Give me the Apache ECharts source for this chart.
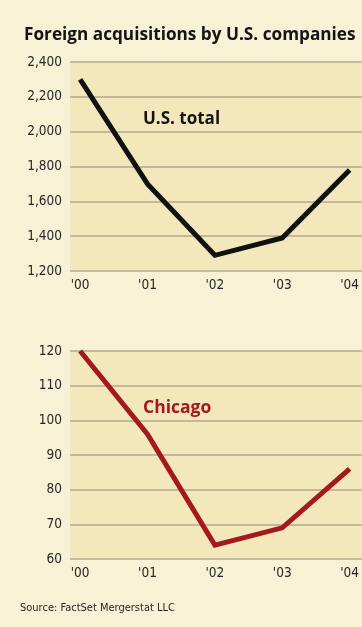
<!DOCTYPE html>
<html>
<head>
<meta charset="utf-8">
<script src="https://cdn.jsdelivr.net/npm/echarts@6/dist/echarts.min.js"></script>
<style>
  html, body { margin: 0; padding: 0; background: #f7f2d6; }
  #chart { width: 362px; height: 627px; }
</style>
</head>
<body>
<div id="chart"></div>
<script>
// Foreign acquisitions by U.S. companies, 2000-2004
const years = ["'00", "'01", "'02", "'03", "'04"];
const usTotal = [2300, 1700, 1290, 1390, 1780];
const chicago = [120, 96, 64, 69, 86];
const usTicks = [1200, 1400, 1600, 1800, 2000, 2200, 2400];
const chiTicks = [60, 70, 80, 90, 100, 110, 120];

const narrow = '"DejaVu Sans Condensed", "Liberation Sans Narrow", sans-serif';
const gridColor = '#b3a98e';
const textColor = '#262626';

function xAxisFor(gridIndex) {
  return {
    type: 'value',
    gridIndex: gridIndex,
    min: -0.15,
    max: 4.18,
    axisLine: { show: false },
    axisTick: { show: false },
    splitLine: { show: false },
    axisLabel: {
      customValues: [0, 1, 2, 3, 4],
      formatter: v => years[Math.round(v)],
      color: textColor,
      fontFamily: narrow,
      fontSize: 13.5,
      margin: 7
    }
  };
}

function yAxisFor(gridIndex, ticks) {
  return {
    type: 'value',
    gridIndex: gridIndex,
    min: ticks[0],
    max: ticks[ticks.length - 1],
    interval: ticks[1] - ticks[0],
    axisLine: { show: false },
    axisTick: { show: false },
    axisLabel: {
      color: textColor,
      fontFamily: narrow,
      fontSize: 13.5,
      margin: 8,
      formatter: v => v.toLocaleString('en-US')
    },
    splitLine: { lineStyle: { color: gridColor, width: 1.5 } }
  };
}

const chart = echarts.init(document.getElementById('chart'), null, { renderer: 'canvas' });
chart.setOption({
  backgroundColor: '#f7f2d6',
  animation: false,
  title: [
    {
      text: 'Foreign acquisitions by U.S. companies',
      left: 24, top: 27, padding: 0,
      textStyle: { fontFamily: '"Open Sans", sans-serif', fontWeight: 'bold', fontSize: 17.2, color: '#141414' }
    },
    {
      text: 'U.S. total',
      left: 143, top: 111, padding: 0,
      textStyle: { fontFamily: '"Open Sans", sans-serif', fontWeight: 'bold', fontSize: 17, color: '#141414' }
    },
    {
      text: 'Chicago',
      left: 143, top: 399, padding: 0,
      textStyle: { fontFamily: '"Open Sans", sans-serif', fontWeight: 'bold', fontSize: 17.5, color: '#a3191e' }
    },
    {
      text: 'Source: FactSet Mergerstat LLC',
      left: 20, top: 603, padding: 0,
      textStyle: { fontFamily: narrow, fontWeight: 'normal', fontSize: 11, color: '#262626' }
    }
  ],
  grid: [
    { left: 70, right: 0, top: 62, height: 209, show: true, backgroundColor: '#f3e8bb', borderWidth: 0 },
    { left: 70, right: 0, top: 351, height: 208, show: true, backgroundColor: '#f3e8bb', borderWidth: 0 }
  ],
  xAxis: [xAxisFor(0), xAxisFor(1)],
  yAxis: [yAxisFor(0, usTicks), yAxisFor(1, chiTicks)],
  series: [
    {
      name: 'U.S. total',
      type: 'line',
      xAxisIndex: 0, yAxisIndex: 0,
      data: usTotal.map((v, i) => [i, v]),
      symbol: 'none',
      lineStyle: { color: '#111111', width: 5, join: 'miter' }
    },
    {
      name: 'Chicago',
      type: 'line',
      xAxisIndex: 1, yAxisIndex: 1,
      data: chicago.map((v, i) => [i, v]),
      symbol: 'none',
      lineStyle: { color: '#a3191e', width: 5, join: 'miter' }
    }
  ]
});
</script>
</body>
</html>
